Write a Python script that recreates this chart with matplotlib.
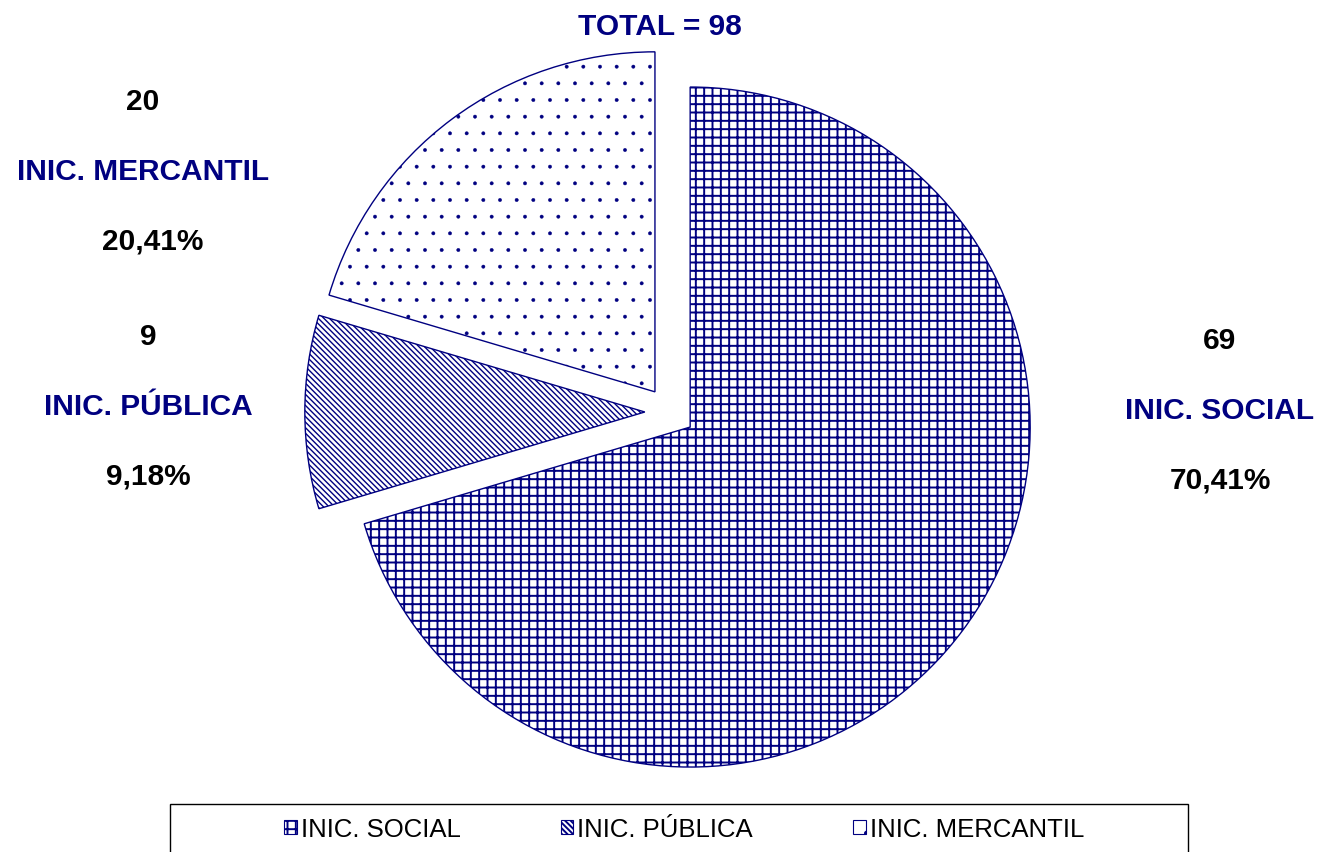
import matplotlib.pyplot as plt
from matplotlib.patches import Patch, Rectangle

plt.rcParams["font.family"] = ["Liberation Sans", "DejaVu Sans"]
plt.rcParams["hatch.linewidth"] = 1.4

NAVY = "#000080"

categories = ["INIC. SOCIAL", "INIC. PÚBLICA", "INIC. MERCANTIL"]
counts = [69, 9, 20]
percents = ["70,41%", "9,18%", "20,41%"]
hatches = ["++", "\\\\\\\\\\\\", "."]
hatch_lw = [1.4, 1.0, 0.3]
total = sum(counts)

W, H = 1321, 853
fig = plt.figure(figsize=(W / 100, H / 100), dpi=100)
ax = fig.add_axes([0, 0, 1, 1])

# pie centre at pixel (670, 413), radius 340 px
cx, cy, rad = 670, 413, 340
wedges, _ = ax.pie(counts, startangle=90, counterclock=False,
                   explode=[0.074] * 3, colors=["white"] * 3,
                   wedgeprops=dict(edgecolor=NAVY, linewidth=1.0))
for w, h, lw in zip(wedges, hatches, hatch_lw):
    w.set_hatch(h)
    if hasattr(w, "set_hatch_linewidth"):
        w.set_hatch_linewidth(lw)
ax.set_xlim(-cx / rad, (W - cx) / rad)
ax.set_ylim(-(H - cy) / rad, cy / rad)
ax.set_aspect("equal")
ax.axis("off")


def ftext(px, py, s, color="black", **kw):
    fig.text(px / W, 1 - py / H, s, color=color, ha="center", va="center",
             fontsize=21.5, fontweight="bold", **kw)


ftext(660, 27, f"TOTAL = {total}", NAVY)

# label blocks: (x, y of count line)
label_pos = [(1220, 341), (148, 337), (143, 102)]
for (px, py), cat, n, pct in zip(label_pos, categories, counts, percents):
    ftext(px, py, str(n))
    ftext(px, py + 70, cat, NAVY)
    ftext(px + (10 if cat == "INIC. MERCANTIL" else 0), py + 140, pct)

# legend
handles = [Patch(facecolor="white", edgecolor=NAVY, hatch=h, linewidth=0.8)
           for h in hatches]
fig.legend(handles, categories, loc="center", bbox_to_anchor=(684 / W, 1 - 830 / H),
           ncol=3, frameon=False, fontsize=18.5, handlelength=0.5, handleheight=0.5,
           handletextpad=0.15, columnspacing=3.9)
fig.patches.append(Rectangle((170 / W, -0.02), (1188 - 170) / W, (853 - 805) / H + 0.02,
                             transform=fig.transFigure, fill=False,
                             edgecolor="black", linewidth=1.0))

fig.savefig("out.png", dpi=100)
